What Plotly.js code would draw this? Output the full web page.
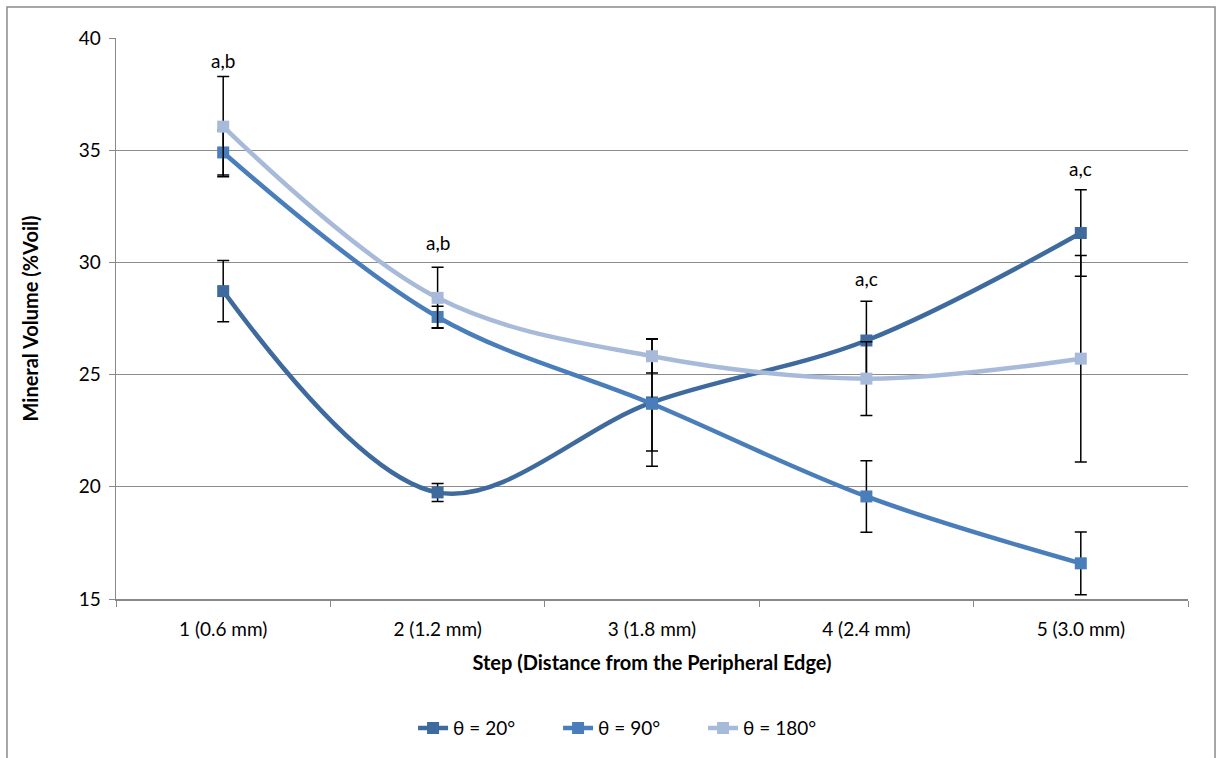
<!DOCTYPE html>
<html>
<head>
<meta charset="utf-8">
<script src="https://cdn.plot.ly/plotly-3.0.1.min.js"></script>
<style>
  html, body { margin: 0; padding: 0; background: #ffffff; }
  #chart { width: 1220px; height: 758px; }
</style>
</head>
<body>
<div id="chart"></div>
<script>
// Steps along the section, measured from the peripheral edge
const steps = ["1 (0.6 mm)", "2 (1.2 mm)", "3 (1.8 mm)", "4 (2.4 mm)", "5 (3.0 mm)"];

// Mean mineral volume (%Voil) per step and angle
const theta20  = [28.72, 19.75, 23.76, 26.52, 31.31];
const theta90  = [34.90, 27.57, 23.70, 19.57, 16.59];
const theta180 = [36.05, 28.42, 25.82, 24.82, 25.71];

// Error bar half-widths
const err20  = [1.37, 0.40, 2.84, 1.75, 1.93];
const err90  = [1.00, 0.48, 2.10, 1.59, 1.40];
const err180 = [2.23, 1.36, 0.75, 1.64, 4.60];

// Significance letters above selected steps
const sigSteps  = ["1 (0.6 mm)", "2 (1.2 mm)", "4 (2.4 mm)", "5 (3.0 mm)"];
const sigLabels = ["a,b", "a,b", "a,c", "a,c"];
const sigY      = [39.0, 30.9, 29.3, 34.2];

const seriesNames  = ["θ = 20°", "θ = 90°", "θ = 180°"];
const seriesColors = ["#3E6A9E", "#4A7EBB", "#A8BAD9"];

const FONT = "Lato, 'Liberation Sans', sans-serif";

function series(name, y, err, color) {
  return {
    type: "scatter",
    mode: "lines+markers",
    name: name,
    x: steps,
    y: y,
    line: { color: color, width: 4.5, shape: "spline", smoothing: 1 },
    marker: { symbol: "square", size: 12, color: color },
    error_y: { type: "data", array: err, visible: true, color: "#000000", thickness: 1.5, width: 6 }
  };
}

const data = [
  series(seriesNames[0], theta20, err20, seriesColors[0]),
  series(seriesNames[1], theta90, err90, seriesColors[1]),
  series(seriesNames[2], theta180, err180, seriesColors[2])
];

const annotations = sigSteps.map((s, i) => ({
  x: s, y: sigY[i], xref: "x", yref: "y",
  text: sigLabels[i], showarrow: false,
  font: { family: FONT, size: 19, color: "#000000" },
  yanchor: "middle"
}));

const layout = {
  width: 1220,
  height: 758,
  paper_bgcolor: "#ffffff",
  plot_bgcolor: "#ffffff",
  margin: { l: 116, r: 32, t: 38, b: 158 },
  font: { family: FONT, size: 19, color: "#000000" },
  showlegend: true,
  legend: {
    orientation: "h",
    x: 0.48, xanchor: "center",
    y: -0.228, yanchor: "middle",
    font: { family: FONT, size: 19, color: "#000000" },
    entrywidth: 100,
    entrywidthmode: "pixels",
    tracegroupgap: 0
  },
  xaxis: {
    type: "category",
    range: [-0.5, 4.5],
    tickson: "boundaries",
    ticks: "outside",
    ticklen: 6,
    tickcolor: "#888888",
    ticklabelstandoff: 13,
    showline: true,
    linecolor: "#888888",
    linewidth: 1.5,
    showgrid: false,
    zeroline: false,
    tickfont: { family: FONT, size: 19 },
    title: { text: "<b>Step (Distance from the Peripheral Edge)</b>", font: { family: FONT, size: 20 }, standoff: 16 }
  },
  yaxis: {
    range: [15, 40],
    tickvals: [15, 20, 25, 30, 35, 40],
    ticks: "outside",
    ticklen: 6,
    tickcolor: "#888888",
    ticklabelstandoff: 4,
    showline: true,
    linecolor: "#888888",
    linewidth: 1.5,
    showgrid: true,
    gridcolor: "#8C8C8C",
    gridwidth: 1,
    zeroline: false,
    tickfont: { family: FONT, size: 19 },
    title: { text: "<b>Mineral Volume (%Voil)</b>", font: { family: FONT, size: 20 }, standoff: 34 }
  },
  annotations: annotations,
  shapes: [
    {
      type: "rect", xref: "paper", yref: "paper",
      x0: -0.1017, x1: 1.0252, y0: -0.40, y1: 1.0552,
      line: { color: "#8A8A8A", width: 1.5 }, fillcolor: "rgba(0,0,0,0)", layer: "below"
    }
  ]
};

Plotly.newPlot("chart", data, layout, { displayModeBar: false, staticPlot: true });
</script>
</body>
</html>
